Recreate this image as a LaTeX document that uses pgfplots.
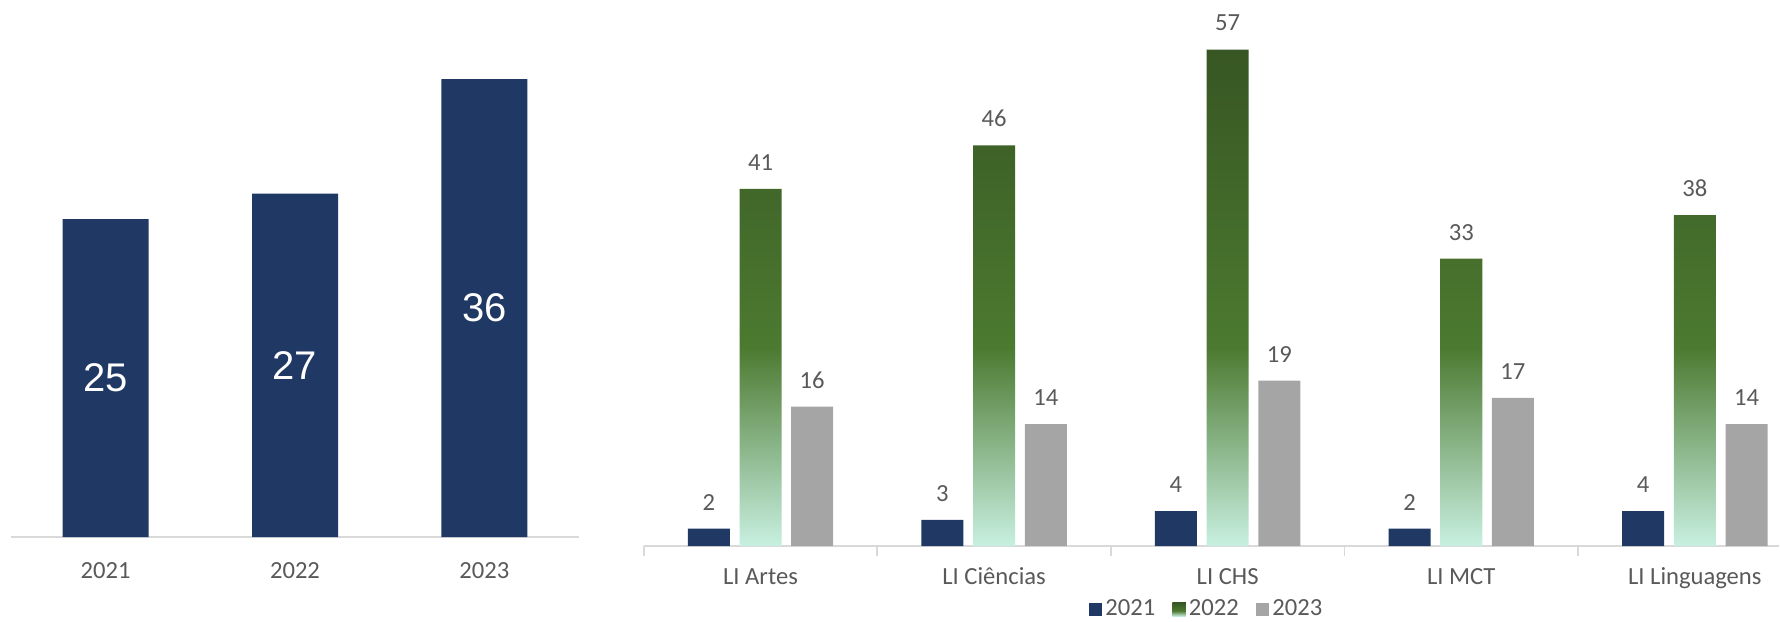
\documentclass[border=0pt]{standalone}
\usepackage{pgfplots}
\pgfplotsset{compat=1.18}
\usepackage{fontspec}
\setmainfont{Carlito}
\newfontfamily\inbarfont{Liberation Sans}
\definecolor{navy}{RGB}{32,56,100}
\definecolor{barGray}{RGB}{165,165,165}
\definecolor{darkgreen}{RGB}{55,86,35}
\definecolor{midgreen}{RGB}{76,122,48}
\definecolor{mint}{RGB}{200,240,225}
\definecolor{axisgray}{RGB}{217,217,217}
\definecolor{txtgray}{RGB}{89,89,89}
\pgfdeclareverticalshading{greenbar}{100bp}{color(0bp)=(mint); color(25bp)=(mint); color(45bp)=(midgreen); color(75bp)=(darkgreen); color(100bp)=(darkgreen)}

\pgfplotstableread{
x y
0 25
1 27
2 36
}\totals

\pgfplotstableread{
x a b c
0 2 41 16
1 3 46 14
2 4 57 19
3 2 33 17
4 4 38 14
}\courses

\begin{document}
\begin{tikzpicture}
\path[use as bounding box] (0,0) rectangle (890pt,310.5pt);

% ---------- left chart ----------
\begin{axis}[
  at={(5.5pt,42pt)}, anchor=south west, scale only axis,
  width=284pt, height=254.4pt,
  xmin=-0.5, xmax=2.5, ymin=0, ymax=40,
  axis x line*=bottom, axis y line=none,
  x axis line style={draw=axisgray, line width=0.9pt, -},
  xtick={0,1,2}, xticklabels={2021,2022,2023},
  major x tick style={draw=none},
  xticklabel style={font=\fontsize{12.3}{14}\selectfont, text=txtgray, anchor=base, yshift=-16.5pt},
  ybar, bar width=43pt,
  visualization depends on={rawy \as \rawy},
  nodes near coords,
  nodes near coords style={font=\inbarfont\fontsize{20}{24}\selectfont, text=white, anchor=center, yshift={-\rawy*3.18pt}},
  /pgf/number format/assume math mode=true,
  clip=false,
]
\addplot[fill=navy, draw=none, bar shift=0pt] table[x=x, y=y] {\totals};
\end{axis}

% ---------- right chart ----------
\begin{axis}[
  at={(321.85pt,37.5pt)}, anchor=south west, scale only axis,
  width=567.6pt, height=261.3pt,
  xmin=-0.5, xmax=4.36, ymin=0, ymax=60,
  axis x line*=bottom, axis y line=none,
  x axis line style={draw=axisgray, line width=0.9pt, -},
  xtick={0,...,4},
  xticklabels={LI Artes, LI Ciências, LI CHS, LI MCT, LI Linguagens},
  major x tick style={draw=none},
  minor xtick={-0.5,0.5,1.5,2.5,3.5},
  minor x tick style={draw=axisgray, line width=0.9pt},
  tick align=outside, minor tick length=5pt,
  xticklabel style={font=\fontsize{12.3}{14}\selectfont, text=txtgray, anchor=base, yshift=-14.9pt},
  ybar, bar width=21pt,
  nodes near coords,
  nodes near coords style={font=\fontsize{12.3}{14}\selectfont, text=txtgray, anchor=south, inner sep=0pt, yshift=9pt},
  /pgf/number format/assume math mode=true,
  clip=false,
  legend style={at={(axis description cs:0.4962,-0.1215)}, anchor=center, draw=none, fill=none,
    font=\fontsize{12.3}{14}\selectfont, text=txtgray,
    legend columns=-1,
    /tikz/every even column/.append style={column sep=7pt},
    nodes={inner sep=1.5pt}},
  legend image code/.code={\path[#1,draw=none] (0pt,-3.4pt) rectangle (6.8pt,3.4pt);},
]
\addplot[fill=navy, draw=none, bar shift=-25.85pt] table[x=x, y=a] {\courses};
\addplot[shading=greenbar, draw=none, bar shift=0pt] table[x=x, y=b] {\courses};
\addplot[fill=barGray, draw=none, bar shift=25.85pt] table[x=x, y=c] {\courses};
\legend{2021,2022,2023}
\end{axis}
\end{tikzpicture}
\end{document}
